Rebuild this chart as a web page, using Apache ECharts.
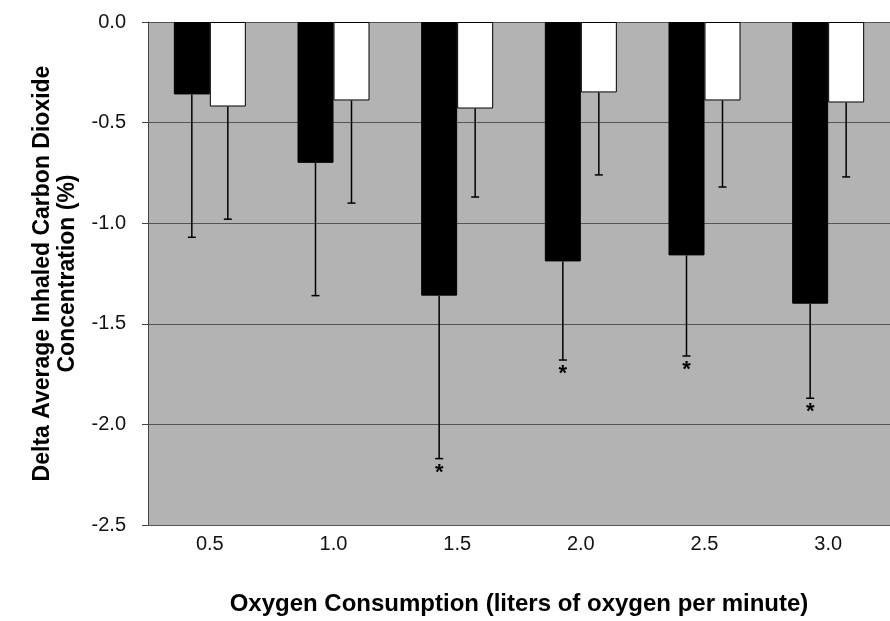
<!DOCTYPE html>
<html>
<head>
<meta charset="utf-8">
<script src="https://cdn.jsdelivr.net/npm/echarts@6/dist/echarts.min.js"></script>
<style>
  html, body { margin: 0; padding: 0; background: #fff; }
  #chart { width: 890px; height: 621px; }
</style>
</head>
<body>
<div id="chart"></div>
<script>
// oxygen flow categories
var categories = ['0.5', '1.0', '1.5', '2.0', '2.5', '3.0'];
// mean delta (black / white bars)
var blackValues = [-0.36, -0.70, -1.36, -1.19, -1.16, -1.40];
var whiteValues = [-0.42, -0.39, -0.43, -0.35, -0.39, -0.40];
// lower end of error bars
var blackErrLow = [-1.07, -1.36, -2.17, -1.68, -1.66, -1.87];
var whiteErrLow = [-0.98, -0.90, -0.87, -0.76, -0.82, -0.77];
// significance asterisks on black bars
var blackStars = [false, false, true, true, true, true];

var BAR_W = 36;

var chart = echarts.init(document.getElementById('chart'));

function errData(vals, lows, stars) {
  return vals.map(function (v, i) {
    return [i, v, lows[i], stars && stars[i] ? 1 : 0];
  });
}

function makeRender(shift) {
  return function (params, api) {
    var top = api.coord([api.value(0), api.value(1)]);
    var bot = api.coord([api.value(0), api.value(2)]);
    var x = top[0] + shift;
    var kids = [
      { type: 'line', shape: { x1: x, y1: top[1], x2: x, y2: bot[1] },
        style: { stroke: '#000', lineWidth: 1.5 } },
      { type: 'line', shape: { x1: x - 4, y1: bot[1], x2: x + 4, y2: bot[1] },
        style: { stroke: '#000', lineWidth: 1.5 } }
    ];
    if (api.value(3)) {
      kids.push({ type: 'text', x: x, y: bot[1] + 14,
        style: { text: '*', fill: '#000', font: 'bold 22px "Liberation Sans", Arial',
          align: 'center', verticalAlign: 'middle' } });
    }
    return { type: 'group', children: kids };
  };
}

var option = {
  animation: false,
  grid: { left: 148, top: 22, right: 0, bottom: 93, show: true,
    backgroundColor: '#b3b3b3', borderWidth: 0 },
  xAxis: {
    type: 'category',
    data: categories,
    position: 'bottom',
    axisLine: { show: false },
    axisTick: { show: false },
    axisLabel: { color: '#111', fontSize: 20, fontFamily: 'Liberation Sans', margin: 9 },
    name: 'Oxygen Consumption (liters of oxygen per minute)',
    nameLocation: 'middle',
    nameGap: 67,
    nameTextStyle: { color: '#000', fontSize: 24, fontWeight: 'bold', fontFamily: 'Liberation Sans' }
  },
  yAxis: {
    type: 'value',
    min: -2.5,
    max: 0,
    interval: 0.5,
    axisLine: { show: true, lineStyle: { color: '#444', width: 1 } },
    axisTick: { show: true, length: 6, lineStyle: { color: '#444' } },
    axisLabel: { color: '#111', fontSize: 20, fontFamily: 'Liberation Sans', margin: 22,
      formatter: function (v) { return v.toFixed(1); } },
    splitLine: { show: true, lineStyle: { color: '#555', width: 1 } },
    name: 'Delta Average Inhaled Carbon Dioxide\nConcentration (%)',
    nameLocation: 'middle',
    nameGap: 64,
    nameTextStyle: { color: '#000', fontSize: 23, fontWeight: 'bold', fontFamily: 'Liberation Sans', lineHeight: 25 }
  },
  series: [
    { type: 'bar', data: blackValues, barWidth: BAR_W, barGap: '0%',
      itemStyle: { color: '#000', borderColor: '#000', borderWidth: 1 } },
    { type: 'bar', data: whiteValues, barWidth: BAR_W, barGap: '0%',
      itemStyle: { color: '#fff', borderColor: '#000', borderWidth: 1 } },
    { type: 'custom', data: errData(blackValues, blackErrLow, blackStars),
      renderItem: makeRender(-BAR_W / 2), z: 5 },
    { type: 'custom', data: errData(whiteValues, whiteErrLow, null),
      renderItem: makeRender(BAR_W / 2), z: 5 }
  ]
};

chart.setOption(option);
</script>
</body>
</html>
